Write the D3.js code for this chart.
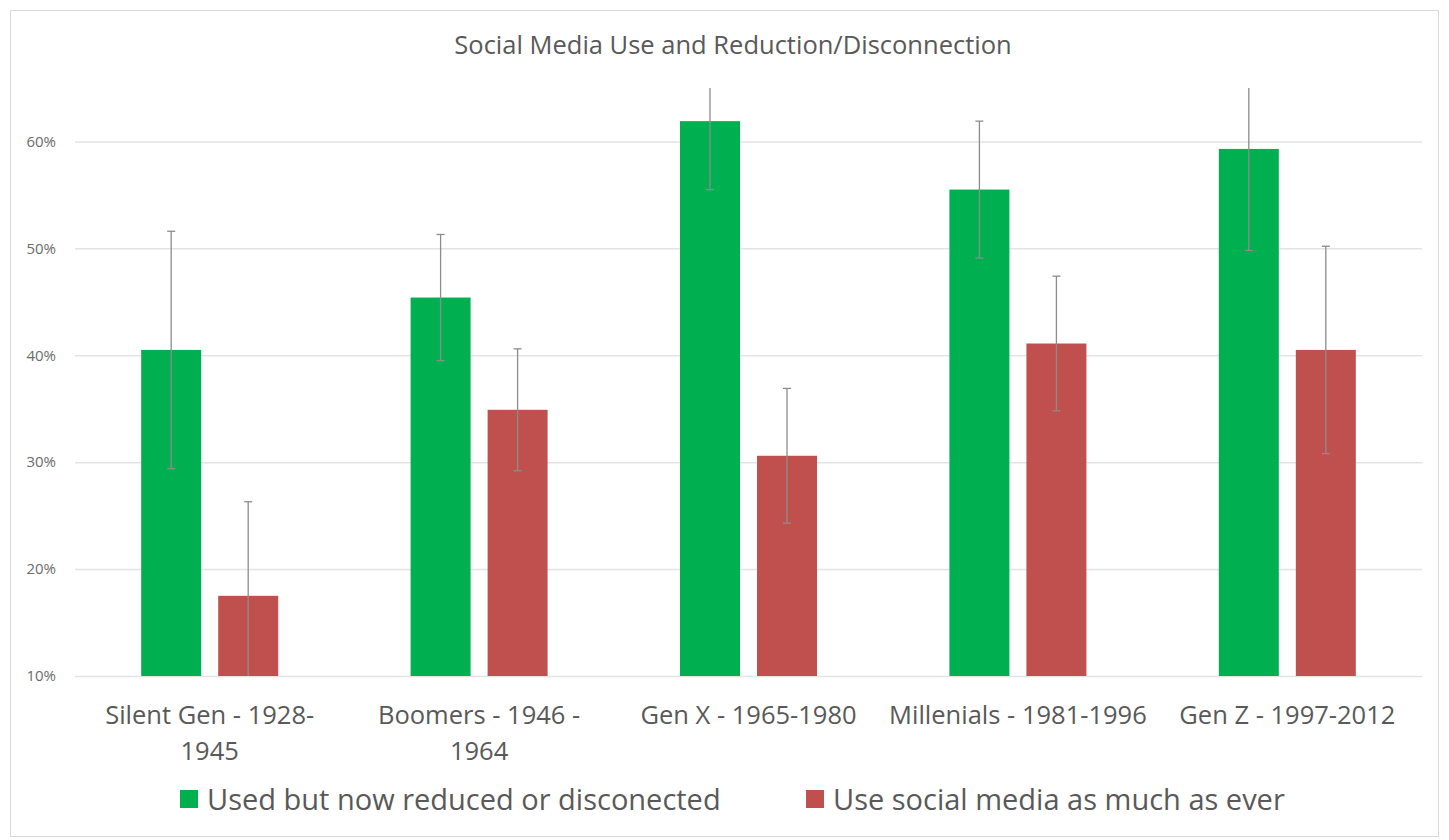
<!DOCTYPE html>
<html>
<head>
<meta charset="utf-8">
<script src="https://cdn.jsdelivr.net/npm/d3@7"></script>
<style>
  body { margin: 0; background: #fff; }
  text { font-family: "Open Sans", sans-serif; fill: #595959; }
</style>
</head>
<body>
<div id="chart"></div>
<script>
var categories = ["Silent Gen - 1928-\n1945", "Boomers - 1946 -\n1964", "Gen X - 1965-1980", "Millenials - 1981-1996", "Gen Z - 1997-2012"];
var seriesNames = ["Used but now reduced or disconected", "Use social media as much as ever"];
var reducedValues = [0.405, 0.454, 0.619, 0.555, 0.593];
var reducedErrors = [0.111, 0.059, 0.064, 0.064, 0.095];
var asEverValues = [0.175, 0.349, 0.306, 0.411, 0.405];
var asEverErrors = [0.088, 0.057, 0.063, 0.063, 0.097];
var yTicks = [0.1, 0.2, 0.3, 0.4, 0.5, 0.6];
var colors = ["#00b050", "#c0504d"];

var width = 1449, height = 840;
var margin = { top: 88, right: 27, bottom: 164, left: 75 };

var svg = d3.select('#chart').append('svg')
            .attr('width', width)
            .attr('height', height);

// chart frame
svg.append('rect')
   .attr('x', 10.5).attr('y', 10.5)
   .attr('width', width - 21).attr('height', height - 14)
   .attr('fill', '#fff')
   .attr('stroke', '#d9d9d9');

svg.append('text')
   .attr('x', 733).attr('y', 54)
   .attr('text-anchor', 'middle')
   .style('font-size', '25.5px')
   .text('Social Media Use and Reduction/Disconnection');

var x0 = d3.scaleBand().domain(categories)
           .range([margin.left, width - margin.right])
           .paddingInner(0.4915).paddingOuter(0.2457);
var x1 = d3.scaleBand().domain(seriesNames)
           .range([0, x0.bandwidth()])
           .paddingInner(0.221);
var y = d3.scaleLinear().domain([0.1, 0.65]).range([height - margin.bottom, margin.top]);

// grid
var yAxis = d3.axisLeft(y).tickValues(yTicks).tickFormat(d3.format('.0%'))
              .tickSize(-(width - margin.left - margin.right)).tickPadding(19);
var gy = svg.append('g')
            .attr('transform', 'translate(' + margin.left + ',0)')
            .call(yAxis);
gy.select('.domain').remove();
gy.selectAll('line').attr('stroke', '#e3e3e3').attr('stroke-width', 1.5);
gy.selectAll('text').style('font-size', '15px').style('fill', '#6b6b6b');

var rows = categories.map(function(c, i) {
  return [
    { cat: c, s: seriesNames[0], v: reducedValues[i], e: reducedErrors[i], c: colors[0] },
    { cat: c, s: seriesNames[1], v: asEverValues[i], e: asEverErrors[i], c: colors[1] }
  ];
});

var groups = svg.selectAll('.grp').data(rows).enter().append('g')
                .attr('transform', function(d) { return 'translate(' + x0(d[0].cat) + ',0)'; });

groups.selectAll('rect').data(function(d) { return d; }).enter().append('rect')
      .attr('x', function(d) { return x1(d.s); })
      .attr('y', function(d) { return y(d.v); })
      .attr('width', x1.bandwidth())
      .attr('height', function(d) { return y(0.1) - y(d.v); })
      .attr('fill', function(d) { return d.c; });

// error bars, clipped to the plot area like Excel does
svg.append('clipPath').attr('id', 'plotclip').append('rect')
   .attr('x', margin.left).attr('y', margin.top)
   .attr('width', width - margin.left - margin.right)
   .attr('height', y(0.1) - margin.top);

var errs = svg.append('g').attr('clip-path', 'url(#plotclip)');
rows.forEach(function(r) {
  r.forEach(function(d) {
    var cx = x0(d.cat) + x1(d.s) + x1.bandwidth() / 2;
    var g = errs.append('g').attr('stroke', '#8c8c8c').attr('stroke-width', 1.3);
    g.append('line').attr('x1', cx).attr('x2', cx)
     .attr('y1', y(d.v + d.e)).attr('y2', y(d.v - d.e));
    [d.v + d.e, d.v - d.e].forEach(function(v) {
      g.append('line').attr('x1', cx - 4).attr('x2', cx + 4)
       .attr('y1', y(v)).attr('y2', y(v));
    });
  });
});

// category labels
var xl = svg.append('g');
categories.forEach(function(c) {
  var t = xl.append('text')
            .attr('x', x0(c) + x0.bandwidth() / 2)
            .attr('y', 724)
            .attr('text-anchor', 'middle')
            .style('font-size', '25.5px');
  c.split('\n').forEach(function(line, i) {
    t.append('tspan').attr('x', x0(c) + x0.bandwidth() / 2)
     .attr('dy', i ? 36 : 0).text(line);
  });
});

// legend
var legendX = [180, 806];
var lg = svg.selectAll('.lg').data(seriesNames).enter().append('g')
            .attr('transform', function(d, i) { return 'translate(' + legendX[i] + ',799)'; });
lg.append('rect').attr('x', 0).attr('y', -9).attr('width', 18).attr('height', 18)
  .attr('fill', function(d, i) { return colors[i]; });
lg.append('text').attr('x', 27).attr('y', 11)
  .style('font-size', '29px')
  .text(function(d) { return d; });
</script>
</body>
</html>
